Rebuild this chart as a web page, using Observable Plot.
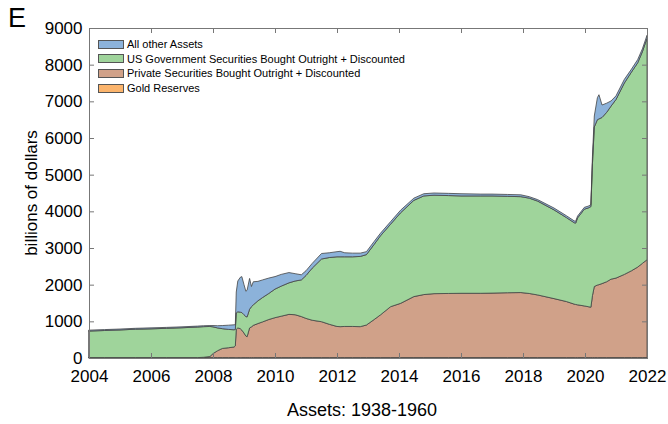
<!DOCTYPE html>
<html><head><meta charset="utf-8">
<script src="https://cdn.jsdelivr.net/npm/d3@7"></script>
<script src="https://cdn.jsdelivr.net/npm/@observablehq/plot@0.6"></script>
<style>
body{margin:0;background:#fff;font-family:"Liberation Sans",Arial,Helvetica,sans-serif;}
#wrap{position:relative;width:668px;height:424px;overflow:hidden;}
#panel{position:absolute;left:8px;top:3px;font-size:27px;color:#000;}
#ylab{position:absolute;left:32px;top:193px;font-size:17px;transform:translate(-50%,-50%) rotate(-90deg);white-space:nowrap;}
#title{position:absolute;left:362px;top:400px;font-size:18px;transform:translateX(-50%);white-space:nowrap;}
#legend{position:absolute;left:98px;top:37px;font-size:11px;line-height:14.6px;}
#legend .row{display:flex;align-items:center;height:14.6px;}
#legend .sw{width:26px;height:9px;border:1px solid #555;margin-right:3px;box-sizing:border-box;}
</style></head><body><div id="wrap"><div id="plot"></div>
<div id="panel">E</div>
<div id="ylab">billions of dollars</div>
<div id="title">Assets: 1938-1960</div>
<div id="legend"></div>
</div>
<script>
const years = [2004.00,2004.50,2005.00,2005.50,2006.00,2006.50,2007.00,2007.50,2007.70,2007.90,2008.00,2008.15,2008.30,2008.50,2008.68,2008.72,2008.75,2008.80,2008.88,2008.93,2009.00,2009.06,2009.10,2009.18,2009.24,2009.30,2009.45,2009.60,2009.80,2010.00,2010.20,2010.45,2010.65,2010.85,2011.00,2011.20,2011.50,2011.75,2012.00,2012.10,2012.25,2012.50,2012.75,2012.95,2013.20,2013.40,2013.73,2014.05,2014.48,2014.80,2015.13,2015.60,2016.00,2016.64,2017.00,2017.50,2017.93,2018.20,2018.47,2019.00,2019.40,2019.65,2019.70,2019.76,2019.98,2020.10,2020.19,2020.24,2020.30,2020.40,2020.45,2020.55,2020.70,2020.84,2021.00,2021.27,2021.50,2021.70,2021.85,2022.00];
const goldReserves = years.map(() => 11);
const privateSecurities = [0,0,0,0,0,0,0,0,9,29,109,189,249,269,289,319,769,809,789,749,669,589,569,809,839,879,929,974,1039,1089,1129,1179,1169,1119,1069,1019,979,909,849,844,849,849,844,889,1039,1164,1389,1479,1664,1719,1744,1749,1754,1754,1759,1769,1774,1749,1709,1609,1529,1459,1449,1439,1409,1389,1374,1689,1939,1979,1989,2019,2069,2139,2169,2269,2369,2469,2569,2669];
const usGovSecurities = [724,739,754,774,784,799,814,834,835,820,730,620,540,500,470,450,450,440,450,480,500,530,540,510,550,560,620,665,710,780,820,860,920,1000,1170,1420,1710,1820,1900,1905,1900,1900,1915,1920,2050,2155,2250,2470,2625,2690,2685,2670,2655,2655,2650,2630,2615,2600,2560,2420,2290,2220,2220,2370,2640,2690,2745,3600,4350,4510,4520,4530,4620,4720,4870,5220,5420,5570,5770,6040];
const otherAssets = [25,25,25,25,27,25,25,25,25,25,35,60,85,115,135,130,570,840,950,980,820,690,730,840,550,630,530,480,420,340,320,280,200,140,130,130,150,130,140,150,110,100,90,80,80,70,70,70,60,60,60,60,60,50,50,50,50,40,40,50,50,50,50,50,50,50,50,200,300,600,660,340,250,140,100,100,80,90,80,80];

const seriesNames = ["Gold Reserves","Private Securities Bought Outright + Discounted","US Government Securities Bought Outright + Discounted","All other Assets"];
const seriesColors = ["#fbb46c","#d0a189","#9fd49b","#8cb2da"];
const seriesValues = [goldReserves, privateSecurities, usGovSecurities, otherAssets];
const xTicks = [2004,2006,2008,2010,2012,2014,2016,2018,2020,2022];
const yTicks = [0,1000,2000,3000,4000,5000,6000,7000,8000,9000];

const rows = [];
seriesNames.forEach((s, si) => years.forEach((yr, i) => rows.push({year: yr, value: seriesValues[si][i], series: s})));

const W = 668, H = 424, mL = 89, mR = 21, mT = 28, mB = 66;
const fw = W - mL - mR, fh = H - mT - mB;

const chart = Plot.plot({
  width: W, height: H,
  marginLeft: mL, marginRight: mR, marginTop: mT, marginBottom: mB,
  style: {fontFamily: '"Liberation Sans", Arial, Helvetica, sans-serif', background: "transparent"},
  x: {domain: [2004, 2022], label: null},
  y: {domain: [0, 9000], label: null},
  color: {domain: seriesNames, range: seriesColors},
  marks: [
    Plot.areaY(rows, Plot.stackY({x: "year", y: "value", z: "series", fill: "series", order: seriesNames, stroke: "#444", strokeWidth: 0.8, curve: "linear"})),
    Plot.ruleY(yTicks, {insetRight: fw - 5, stroke: "#777"}),
    Plot.ruleY(yTicks, {insetLeft: fw - 5, stroke: "#777"}),
    Plot.ruleX(xTicks, {insetTop: fh - 5, stroke: "#777"}),
    Plot.ruleX(xTicks, {insetBottom: fh - 5, stroke: "#777"}),
    Plot.frame({stroke: "#777"}),
    Plot.axisY({ticks: yTicks, tickSize: 0, tickPadding: 7, fontSize: 17, label: null, tickFormat: d => String(d)}),
    Plot.axisX({ticks: xTicks, tickSize: 0, tickPadding: 11, fontSize: 17, label: null, tickFormat: d => String(d)})
  ]
});
document.getElementById("plot").appendChild(chart);

const lg = document.getElementById("legend");
[3,2,1,0].forEach(i => {
  const r = document.createElement("div"); r.className = "row";
  const sw = document.createElement("div"); sw.className = "sw"; sw.style.background = seriesColors[i];
  const t = document.createElement("span"); t.textContent = seriesNames[i];
  r.appendChild(sw); r.appendChild(t); lg.appendChild(r);
});
</script></body></html>
